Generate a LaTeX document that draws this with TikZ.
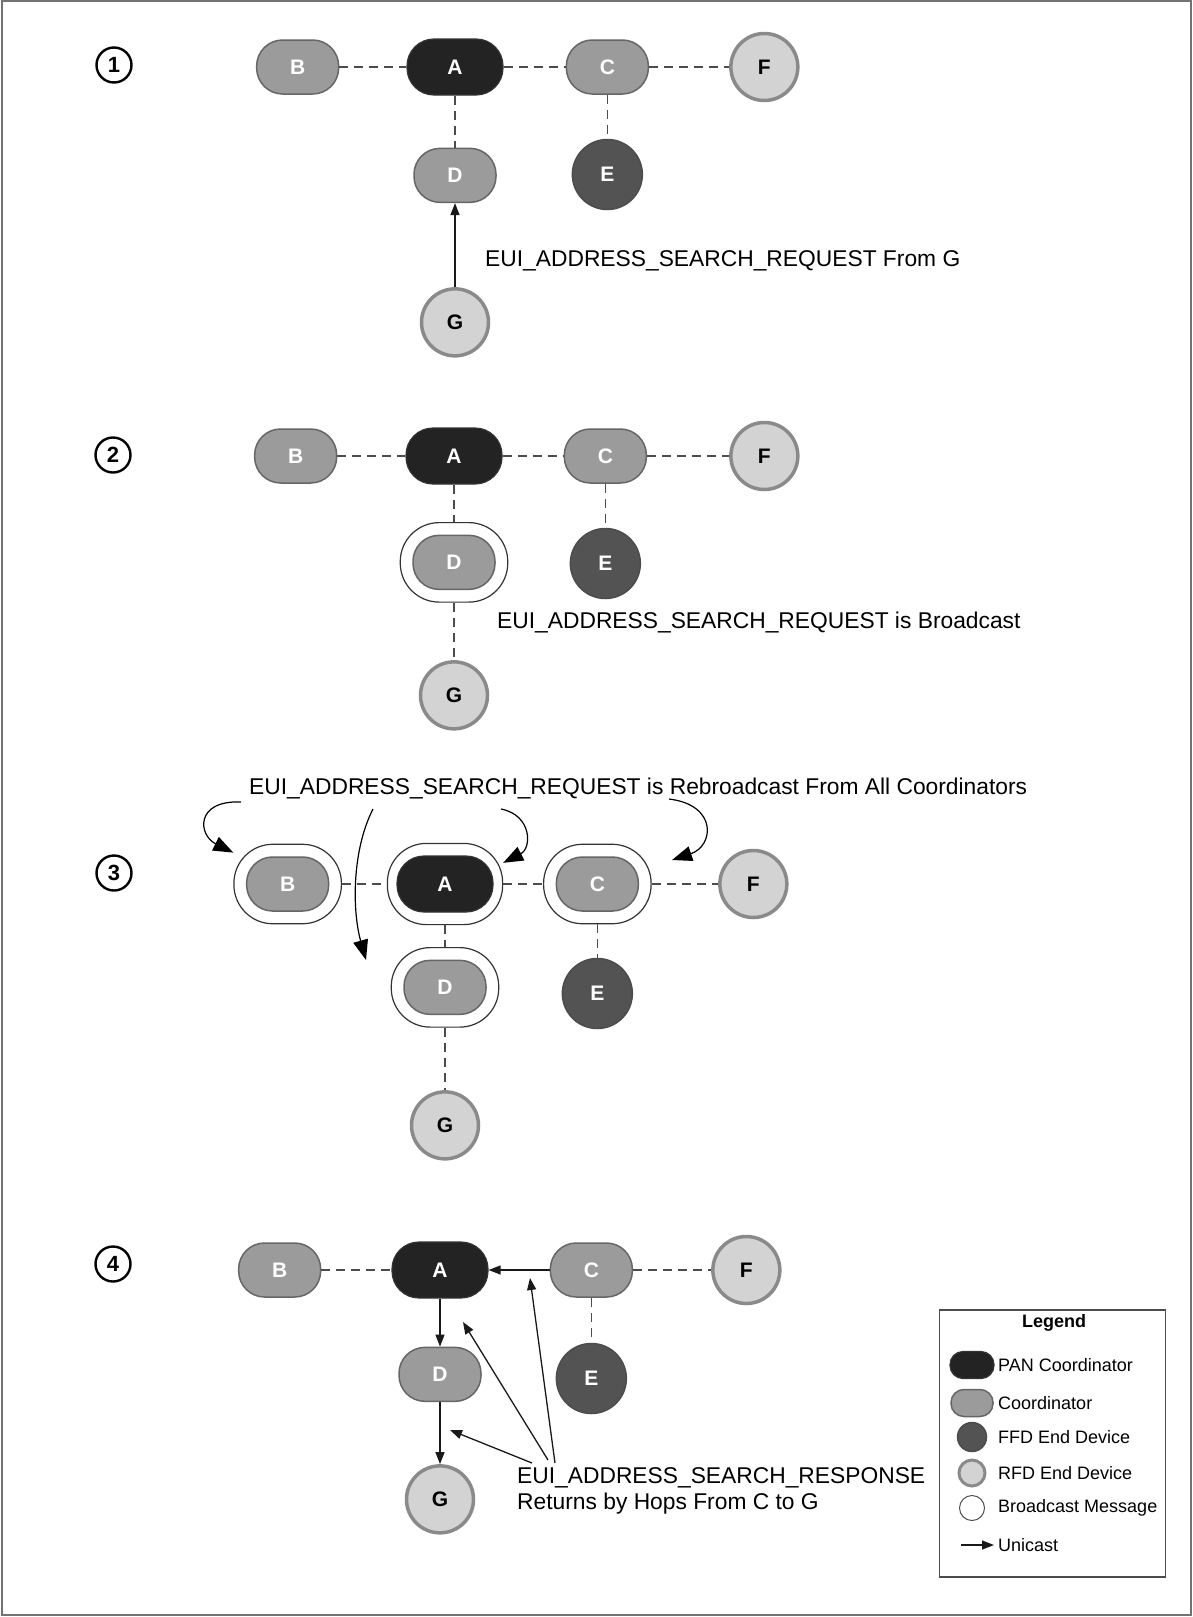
\documentclass[tikz,border=0pt]{standalone}
\usepackage{fontspec}
\setmainfont{Liberation Sans}
\usetikzlibrary{arrows.meta,positioning,fit,backgrounds}

\definecolor{pancol}{HTML}{232323}
\definecolor{crdcol}{HTML}{9B9B9B}
\definecolor{ffdcol}{HTML}{535353}
\definecolor{rfdcol}{HTML}{D3D3D3}
\definecolor{rimcol}{HTML}{8A8A8A}

\begin{document}
\begin{tikzpicture}[x=1pt, y=-1pt,
  font=\fontsize{22.8}{26}\selectfont, node distance=62pt,
  dev/.style={text=white, font=\fontsize{21}{24}\selectfont\bfseries,
              inner sep=0pt},
  pan/.style={dev, draw=black!80, line width=1.2pt, fill=pancol,
              rounded corners=27pt, minimum width=96pt, minimum height=56pt},
  crd/.style={dev, draw=black!60, line width=1.5pt, fill=crdcol,
              rounded corners=26pt, minimum width=82pt, minimum height=54pt},
  ffd/.style={dev, circle, draw=black!70, line width=1.5pt, fill=ffdcol,
              minimum size=70pt},
  rfd/.style={dev, circle, draw=rimcol, line width=3.5pt, fill=rfdcol,
              minimum size=67pt, text=black},
  bcast/.style={draw=black!80, line width=1.2pt, fill=white,
                rounded corners=39pt, inner sep=12pt},
  num/.style={circle, draw, line width=2.4pt, minimum size=35pt,
              inner sep=0pt, font=\fontsize{22}{24}\selectfont\bfseries},
  note/.style={anchor=west, inner sep=0pt, align=left},
  key/.style={anchor=west, inner sep=0pt, font=\fontsize{18}{20}\selectfont},
  link/.style={draw=black!70, line width=1.3pt, dash pattern=on 9pt off 6pt},
  uni/.style={draw=black!90, line width=1.3pt, ->},
  hop/.style={draw=black, line width=1.2pt,
              -{Triangle[length=20pt,width=15pt]}},
  >={Triangle[length=12pt,width=9pt]}]
\useasboundingbox (0,0) rectangle (1193,1617);
\draw[black!55, line width=2pt] (2,1) rectangle (1191,1615);

% step 1: request from G
\node[num] (n1) at (114,65) {1};
\node[pan] (A1) at (455,67) {A};
\node[crd, left=67pt of A1] (B1) {B};
\node[crd, right=62pt of A1] (C1) {C};
\node[rfd, right=80pt of C1] (F1) {F};
\node[crd, below=52pt of A1] (D1) {D};
\node[ffd, below=44pt of C1] (E1) {E};
\node[rfd, below=84pt of D1] (G1) {G};
\draw[link] (B1) -- (A1);
\draw[link] (A1) -- (C1);
\draw[link] (C1) -- (F1);
\draw[link] (A1) -- (D1);
\draw[link] (C1) -- (E1);
\draw[uni] (G1) -- (D1);
\node[note] (t1) at (485,261) {EUI\_ADDRESS\_SEARCH\_REQUEST From G};

% step 2: D broadcasts
\node[num] (n2) at (113,455) {2};
\node[pan] (A2) at (454,456) {A};
\node[crd, left=68pt of A2] (B2) {B};
\node[crd, right=61pt of A2] (C2) {C};
\node[rfd, right=82pt of C2] (F2) {F};
\node[crd, below=50pt of A2] (D2) {D};
\node[ffd, below=44pt of C2] (E2) {E};
\begin{scope}[on background layer]
  \node[bcast, fit=(D2)] (D2r) {};
\end{scope}
\node[rfd, below=70pt of D2] (G2) {G};
\draw[link] (B2) -- (A2);
\draw[link] (A2) -- (C2);
\draw[link] (C2) -- (F2);
\draw[link] (A2) -- (D2r);
\draw[link] (C2) -- (E2);
\draw[link] (D2r) -- (G2);
\node[note] (t2) at (497,622) {EUI\_ADDRESS\_SEARCH\_REQUEST is Broadcast};

% step 3: all coordinators rebroadcast
\node[num] (n3) at (114,873) {3};
\node[pan] (A3) at (445,884) {A};
\node[crd, left=67pt of A3] (B3) {B};
\node[crd, right=62pt of A3] (C3) {C};
\node[rfd, right=79pt of C3] (F3) {F};
\node[crd, below=47pt of A3] (D3) {D};
\node[ffd, below=46pt of C3] (E3) {E};
\node[rfd, below=75pt of D3] (G3) {G};
\begin{scope}[on background layer]
  \node[bcast, fit=(B3)] (B3r) {};
  \node[bcast, fit=(A3), inner xsep=9pt] (A3r) {};
  \node[bcast, fit=(C3)] (C3r) {};
  \node[bcast, fit=(D3)] (D3r) {};
\end{scope}
\draw[link] (B3r) -- (A3r);
\draw[link] (A3r) -- (C3r);
\draw[link] (C3r) -- (F3);
\draw[link] (A3r) -- (D3r);
\draw[link] (C3r) -- (E3);
\draw[link] (D3r) -- (G3);
\node[note] (t3) at (249,788)
  {EUI\_ADDRESS\_SEARCH\_REQUEST is Rebroadcast From All Coordinators};
\coordinate (r1) at (241,802);
\coordinate (r2) at (373,809);
\coordinate (r3) at (501,809);
\coordinate (r4) at (669,799);
\coordinate (r2e) at (366,960);
\coordinate (r4e) at (672,860);
\draw[hop] (r1) .. controls (195,800) and (198,835) .. (B3r.150);
\draw[hop] (r2) .. controls (352,850) and (352,910) .. (r2e);
\draw[hop] (r3) .. controls (532,815) and (532,848) .. (A3r.20);
\draw[hop] (r4) .. controls (718,805) and (714,846) .. (r4e);

% step 4: response hops back from C to G
\node[num] (n4) at (113,1264) {4};
\node[pan] (A4) at (440,1270) {A};
\node[crd, left=70pt of A4] (B4) {B};
\node[crd, right=61pt of A4] (C4) {C};
\node[rfd, right=78pt of C4] (F4) {F};
\node[crd, below=48pt of A4] (D4) {D};
\node[ffd, below=45pt of C4] (E4) {E};
\node[rfd, below=62pt of D4] (G4) {G};
\draw[link] (B4) -- (A4);
\draw[uni] (C4) -- (A4);
\draw[link] (C4) -- (F4);
\draw[uni] (A4) -- (D4);
\draw[link] (C4) -- (E4);
\draw[uni] (D4) -- (G4);
\node[note] (t4) at (517,1491)
  {EUI\_ADDRESS\_SEARCH\_RESPONSE\\Returns by Hops From C to G};
\coordinate (s1) at (532,1463);
\coordinate (s2) at (548,1460);
\coordinate (s3) at (555,1463);
\coordinate (p1) at (450,1430);
\coordinate (p2) at (463,1322);
\coordinate (p3) at (530,1278);
\draw[uni] (s1) -- (p1);
\draw[uni] (s2) -- (p2);
\draw[uni] (s3) -- (p3);

% legend
\node[draw=black!70, line width=1.2pt, minimum width=226pt,
      minimum height=267pt] (lgd) at (1052.5,1443.5) {};
\node[font=\fontsize{18}{20}\selectfont\bfseries] (lt) at (1054,1323) {Legend};
\node[pan, minimum width=44pt, minimum height=27pt, rounded corners=13pt]
  (k1) at (972,1365) {};
\node[crd, minimum width=42pt, minimum height=27pt, rounded corners=13pt]
  (k2) at (972,1403) {};
\node[ffd, minimum size=29pt] (k3) at (972,1437) {};
\node[rfd, minimum size=26pt, line width=3pt] (k4) at (972,1473) {};
\node[circle, draw=black!70, line width=1pt, minimum size=25pt] (k5)
  at (972,1508) {};
\coordinate (k6) at (961,1545);
\node[key] (k1t) at (998,1365) {PAN Coordinator};
\node[key] (k2t) at (998,1403) {Coordinator};
\node[key] (k3t) at (998,1437) {FFD End Device};
\node[key] (k4t) at (998,1473) {RFD End Device};
\node[key] (k5t) at (998,1508) {Broadcast Message};
\node[key] (k6t) at (998,1545) {Unicast};
\draw[uni] (k6) -- ([xshift=-4pt]k6t.west);
\end{tikzpicture}
\end{document}
